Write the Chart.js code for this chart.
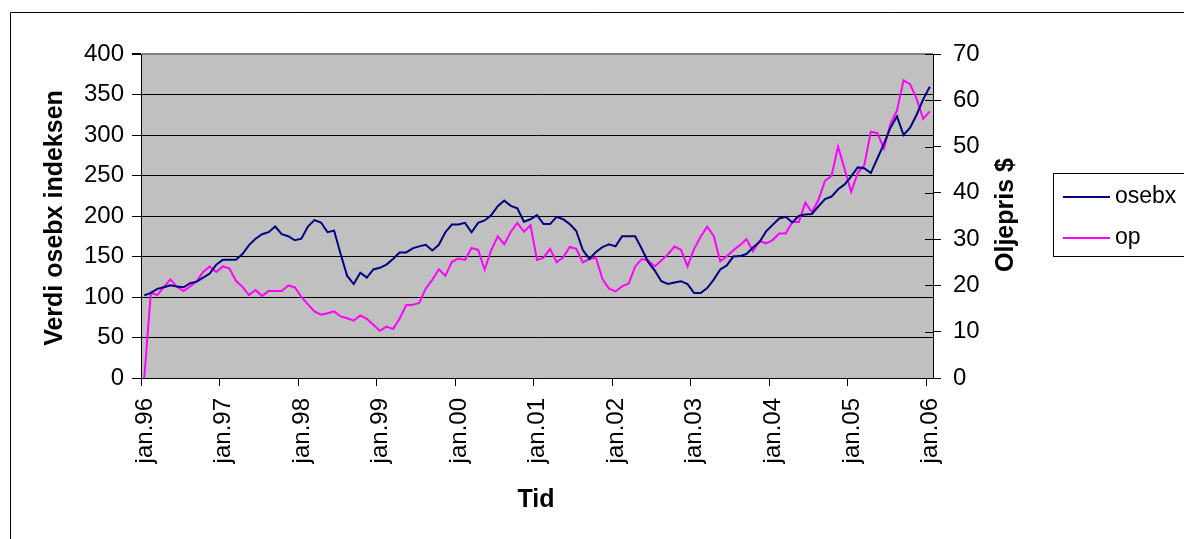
<!DOCTYPE html>
<html>
<head>
<meta charset="utf-8">
<script src="https://cdn.jsdelivr.net/npm/chart.js@4.4.1/dist/chart.umd.min.js"></script>
<style>
  html, body { margin: 0; padding: 0; background: #fff; }
  #wrap { width: 1184px; height: 539px; }
</style>
</head>
<body>
<div id="wrap"><canvas id="oilChart" width="1184" height="539"></canvas></div>
<script>
// monthly values, jan.96 .. jan.06
const osebx = [
  102, 105, 110, 112, 114.5, 113, 112, 117, 119, 124, 129, 140,
  146, 146, 146, 153, 164, 172, 177.5, 180, 187, 177.5, 175, 170,
  172, 187, 195, 192, 180, 182, 153, 126, 116, 130, 124, 134,
  136, 140, 147, 155, 155, 160, 162.5, 164.5, 157.5, 164.5, 180, 189.5,
  189.5, 191.5, 180, 191.5, 194.5, 201, 212, 219, 212.5, 209.5, 193, 196,
  201, 190, 190, 199, 196, 190, 181.5, 158, 147, 155.5, 161.5, 165,
  162.5, 175, 175, 175, 159.5, 143, 132.5, 119.5, 116, 118, 119.5, 116,
  105, 105, 111, 121.5, 134, 139, 150, 150.5, 153, 161, 168, 181,
  189, 197, 199, 192, 200, 202, 202.5, 212, 221, 224, 233, 239,
  249, 260, 259, 253, 271, 289, 309, 323, 300, 309, 325, 344,
  359.5
];
const op = [
  0, 18.4, 17.9, 19.7, 21.3, 19.7, 18.8, 19.8, 20.9, 22.9, 24.1, 22.9,
  24.1, 23.7, 21.0, 19.7, 17.9, 19.0, 17.7, 18.8, 18.8, 18.8, 20.0, 19.6,
  17.5, 15.9, 14.4, 13.7, 14.0, 14.4, 13.3, 12.9, 12.4, 13.5, 12.8, 11.5,
  10.2, 11.1, 10.6, 12.8, 15.7, 15.8, 16.2, 19.3, 21.2, 23.5, 22.1, 25.1,
  25.8, 25.5, 28.1, 27.7, 23.4, 27.6, 30.6, 28.9, 31.6, 33.5, 31.6, 33.0,
  25.5, 26.0, 27.9, 25.0, 26.1, 28.3, 27.9, 25.0, 25.7, 26.0, 21.4, 19.3,
  18.7, 19.8, 20.4, 24.1, 25.7, 25.4, 24.1, 25.4, 26.7, 28.4, 27.7, 24.1,
  27.9, 30.5, 32.7, 30.7, 25.2, 26.3, 27.6, 28.7, 30.0, 27.4, 29.6, 29.1,
  29.8, 31.2, 31.2, 33.7, 33.7, 37.9, 35.8, 38.5, 42.6, 43.7, 50.0, 45.1,
  40.2, 44.3, 46.0, 53.2, 52.9, 49.6, 54.9, 57.8, 64.3, 63.5, 60.3, 56.0,
  57.6
];
const tickLabels = ['jan.96', 'jan.97', 'jan.98', 'jan.99', 'jan.00', 'jan.01',
  'jan.02', 'jan.03', 'jan.04', 'jan.05', 'jan.06'];
const seriesNames = ['osebx', 'op'];

const FONT = "'Liberation Sans', Arial, sans-serif";

document.addEventListener('DOMContentLoaded', () => {
  initOilChart();
});

function drawUp(ctx, text, x, y) {
  ctx.save();
  ctx.translate(x, y);
  ctx.rotate(-Math.PI / 2);
  ctx.fillText(text, 0, 0);
  ctx.restore();
}

// gray plot area, outer frame, titles and the boxed legend like Excel
const excelLook = {
  id: 'excelLook',
  beforeDraw(chart) {
    const { ctx, chartArea: a } = chart;
    ctx.save();
    ctx.fillStyle = '#C0C0C0';
    ctx.fillRect(a.left, a.top, a.right - a.left, a.bottom - a.top);
    ctx.restore();
  },
  afterDraw(chart) {
    const { ctx, chartArea: a } = chart;
    const y1 = chart.scales.y1;
    ctx.save();

    ctx.strokeStyle = '#000';
    ctx.lineWidth = 1;
    ctx.beginPath();
    ctx.moveTo(10.5, 539);
    ctx.lineTo(10.5, 12.5);
    ctx.lineTo(1184, 12.5);
    ctx.stroke();

    // inner half of the right axis tick marks
    ctx.beginPath();
    y1.ticks.forEach(t => {
      const py = Math.round(y1.getPixelForValue(t.value)) + 0.5;
      ctx.moveTo(a.right - 8, py);
      ctx.lineTo(a.right, py);
    });
    ctx.stroke();

    ctx.fillStyle = '#000';
    ctx.font = 'bold 25px ' + FONT;
    ctx.textAlign = 'center';
    ctx.textBaseline = 'middle';
    drawUp(ctx, 'Verdi osebx indeksen', 55, 218);
    drawUp(ctx, 'Oljepris $', 1006, 215);
    ctx.fillText('Tid', 536, 500);

    // legend
    ctx.fillStyle = '#fff';
    ctx.fillRect(1053.5, 173.5, 200, 83);
    ctx.strokeStyle = '#000';
    ctx.strokeRect(1053.5, 173.5, 200, 83);
    ctx.font = '23px ' + FONT;
    ctx.textAlign = 'left';
    chart.data.datasets.forEach((ds, k) => {
      const ly = 197 + k * 41;
      ctx.strokeStyle = ds.borderColor;
      ctx.lineWidth = 2;
      ctx.beginPath();
      ctx.moveTo(1063, ly);
      ctx.lineTo(1110, ly);
      ctx.stroke();
      ctx.fillStyle = '#000';
      ctx.fillText(ds.label, 1115, ly);
    });
    ctx.restore();
  }
};

function initOilChart() {
  const ctx = document.getElementById('oilChart');
  if (!ctx) return;

  new Chart(ctx, {
    type: 'line',
    data: {
      datasets: [{
        label: seriesNames[0],
        data: osebx.map((v, i) => ({ x: i, y: v })),
        yAxisID: 'y',
        borderColor: '#000080',
        borderWidth: 2,
        pointRadius: 0,
        tension: 0
      }, {
        label: seriesNames[1],
        data: op.map((v, i) => ({ x: i, y: v })),
        yAxisID: 'y1',
        borderColor: '#FF00FF',
        borderWidth: 2,
        pointRadius: 0,
        tension: 0
      }]
    },
    options: {
      responsive: false,
      animation: false,
      layout: { padding: { top: 54, left: 0, right: 0, bottom: 0 } },
      plugins: {
        legend: { display: false },
        tooltip: { enabled: false }
      },
      scales: {
        x: {
          type: 'linear',
          min: -0.5,
          max: 120.5,
          afterBuildTicks: s => { s.ticks = tickLabels.map((l, k) => ({ value: -0.5 + 12 * k })); },
          afterFit: s => { s.height = 161; },
          grid: { drawOnChartArea: false, tickLength: 8, color: '#000' },
          border: { color: '#000' },
          ticks: {
            callback: (v, i) => tickLabels[i],
            autoSkip: false,
            minRotation: 90,
            maxRotation: 90,
            labelOffset: 4,
            padding: 12,
            color: '#000',
            font: { family: FONT, size: 24 }
          }
        },
        y: {
          position: 'left',
          min: 0,
          max: 400,
          afterFit: s => { s.width = 141; },
          grid: {
            color: c => (c.tick && c.tick.value === 400 ? '#808080' : '#000'),
            lineWidth: c => (c.tick && c.tick.value === 400 ? 2 : 1),
            tickColor: '#000',
            tickLength: 9
          },
          border: { color: '#000' },
          ticks: { stepSize: 50, padding: 8, color: '#000', font: { family: FONT, size: 24 } }
        },
        y1: {
          position: 'right',
          min: 0,
          max: 70,
          afterFit: s => { s.width = 251; },
          grid: { drawOnChartArea: false, tickLength: 8, color: '#000' },
          border: { color: '#000' },
          ticks: { stepSize: 10, padding: 12, color: '#000', font: { family: FONT, size: 24 } }
        }
      }
    },
    plugins: [excelLook]
  });
}
</script>
</body>
</html>
